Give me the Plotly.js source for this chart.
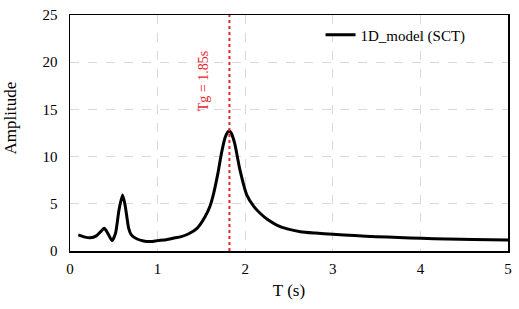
<!DOCTYPE html>
<html>
<head>
<meta charset="utf-8">
<script src="https://cdn.plot.ly/plotly-3.0.1.min.js"></script>
<style>html,body{margin:0;padding:0;background:#fff;}#chart{width:519px;height:309px;}</style>
</head>
<body>
<div id="chart"></div>
<script>
const periodT = [0.095, 0.16, 0.23, 0.30, 0.35, 0.39, 0.43, 0.48, 0.52, 0.56, 0.60, 0.63, 0.67, 0.70, 0.76, 0.84, 0.92, 1.00, 1.10, 1.20, 1.26, 1.35, 1.45, 1.54, 1.60, 1.64, 1.69, 1.73, 1.77, 1.80, 1.82, 1.84, 1.88, 1.94, 2.02, 2.10, 2.17, 2.26, 2.36, 2.48, 2.63, 2.80, 3.00, 3.25, 3.50, 3.75, 4.01, 4.30, 4.60, 5.00];
const amplitude = [1.7, 1.5, 1.4, 1.6, 2.05, 2.4, 1.9, 1.1, 1.9, 4.4, 5.93, 4.8, 2.4, 1.7, 1.3, 1.06, 1.0, 1.1, 1.2, 1.4, 1.5, 1.8, 2.4, 3.6, 4.8, 6.1, 8.3, 10.4, 12.0, 12.6, 12.75, 12.5, 11.4, 8.6, 5.9, 4.7, 4.0, 3.3, 2.75, 2.35, 2.05, 1.9, 1.77, 1.63, 1.52, 1.43, 1.34, 1.28, 1.22, 1.17];
const tgValue = 1.82;
const tgLabel = "Tg = 1.85s";
const seriesName = "1D_model (SCT)";
const xTicks = [0, 1, 2, 3, 4, 5];
const yTicks = [0, 5, 10, 15, 20, 25];

const serif = "'Liberation Serif', 'Times New Roman', serif";

const traces = [
  {
    x: periodT, y: amplitude, type: "scatter", mode: "lines",
    name: seriesName, line: {color: "#000", width: 3, shape: "spline", smoothing: 0.6}
  },
  {
    x: [tgValue, tgValue], y: [0, 25], type: "scatter", mode: "lines",
    showlegend: false, hoverinfo: "skip",
    line: {color: "#e8232a", width: 2, dash: "dot"}
  }
];

const layout = {
  width: 519, height: 309,
  margin: {l: 70, r: 11, t: 15, b: 58},
  paper_bgcolor: "#fff", plot_bgcolor: "#fff",
  font: {family: serif, size: 15, color: "#000"},
  showlegend: true,
  legend: {x: 0.572, y: 0.985, xanchor: "left", yanchor: "top", bgcolor: "rgba(0,0,0,0)", font: {family: serif, size: 15}},
  xaxis: {
    range: [0, 5], tickvals: xTicks, ticktext: xTicks.map(String),
    showgrid: true, gridcolor: "#d9d9d9", griddash: "dash", gridwidth: 1,
    showline: true, linecolor: "#000", linewidth: 1.5, mirror: true,
    ticks: "", ticklen: 0, zeroline: false, ticklabelstandoff: 3,
    tickfont: {family: serif, size: 15},
    title: {text: "T (s)", font: {family: serif, size: 17}, standoff: 8}
  },
  yaxis: {
    range: [0, 25], tickvals: yTicks, ticktext: yTicks.map(String),
    showgrid: true, gridcolor: "#d9d9d9", griddash: "dash", gridwidth: 1,
    showline: true, linecolor: "#000", linewidth: 1.5, mirror: true,
    ticks: "", zeroline: false, ticklabelstandoff: 8,
    tickfont: {family: serif, size: 15},
    title: {text: ""}
  },
  annotations: [
    {
      text: "Amplitude", xref: "paper", yref: "paper", x: -0.135, y: 0.565,
      xanchor: "center", yanchor: "middle", textangle: -90, showarrow: false,
      font: {family: serif, size: 17, color: "#000"}
    },
    {
      text: tgLabel, xref: "x", yref: "y", x: 1.52, y: 18.0,
      xanchor: "center", yanchor: "middle", textangle: -90, showarrow: false,
      font: {family: serif, size: 14, color: "#e8232a"}
    }
  ]
};

Plotly.newPlot("chart", traces, layout, {displayModeBar: false, staticPlot: true});
</script>
</body>
</html>
